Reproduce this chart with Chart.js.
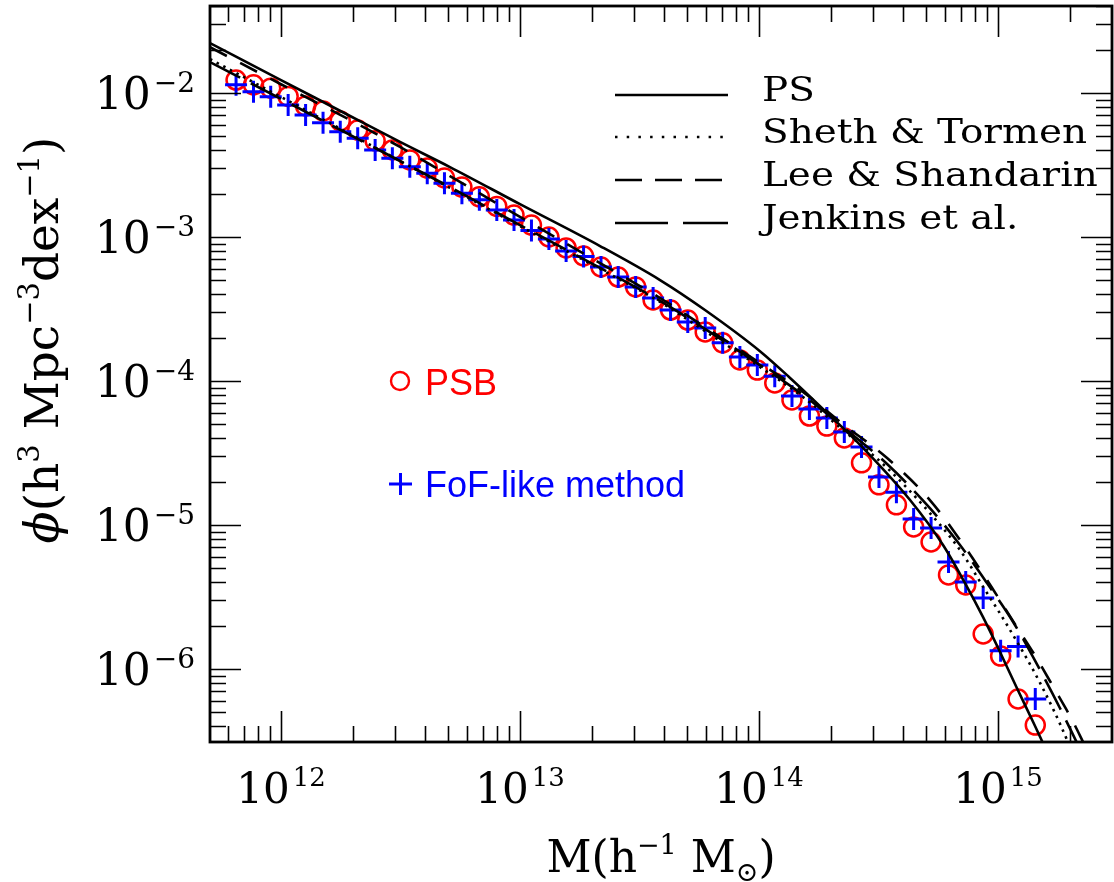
<!DOCTYPE html>
<html>
<head>
<meta charset="utf-8">
<title>Halo mass function</title>
<script src="https://cdn.jsdelivr.net/npm/chart.js@4.4.1/dist/chart.umd.min.js"></script>
<style>
  html, body { margin: 0; padding: 0; background: #fff; }
  #wrap { width: 1114px; height: 882px; }
</style>
</head>
<body>
<div id="wrap"><canvas id="mfChart" width="1114" height="882"></canvas></div>
<script>
// measured bins, log10(M / h^-1 Msun)
const binLogMass = [11.812, 11.885, 11.957, 12.030, 12.103, 12.176, 12.248, 12.321, 12.394, 12.466,
  12.539, 12.612, 12.684, 12.757, 12.830, 12.903, 12.975, 13.048, 13.121, 13.193,
  13.266, 13.339, 13.411, 13.484, 13.557, 13.630, 13.702, 13.775, 13.848, 13.920,
  13.993, 14.066, 14.138, 14.211, 14.284, 14.357, 14.429, 14.502, 14.575, 14.647,
  14.720, 14.793, 14.865, 14.938, 15.011, 15.084, 15.156];

const psbPhi = [1.23e-2, 1.14e-2, 1.08e-2, 9.46e-3, 8.13e-3, 7.50e-3, 6.40e-3, 5.53e-3, 4.65e-3, 4.02e-3,
  3.43e-3, 3.01e-3, 2.57e-3, 2.22e-3, 1.90e-3, 1.63e-3, 1.42e-3, 1.21e-3, 1.00e-3, 8.39e-4,
  7.38e-4, 6.19e-4, 5.27e-4, 4.50e-4, 3.65e-4, 3.11e-4, 2.65e-4, 2.19e-4, 1.84e-4, 1.40e-4,
  1.19e-4, 9.68e-5, 7.38e-5, 5.71e-5, 4.86e-5, 4.02e-5, 2.70e-5, 1.90e-5, 1.38e-5, 9.68e-6,
  7.62e-6, 4.50e-6, 3.83e-6, 1.75e-6, 1.23e-6, 6.19e-7, 4.08e-7];

const fofPhi = [1.14e-2, 1.02e-2, 9.42e-3, 8.26e-3, 7.03e-3, 6.22e-3, 5.38e-3, 4.84e-3, 4.02e-3, 3.52e-3,
  3.08e-3, 2.77e-3, 2.36e-3, 2.01e-3, 1.81e-3, 1.54e-3, 1.31e-3, 1.11e-3, 9.68e-4, 8.00e-4,
  7.32e-4, 6.19e-4, 5.27e-4, 4.50e-4, 3.77e-4, 3.11e-4, 2.57e-4, 2.33e-4, 1.84e-4, 1.47e-4,
  1.29e-4, 1.08e-4, 7.87e-5, 6.40e-5, 5.54e-5, 4.43e-5, 3.48e-5, 2.15e-5, 1.69e-5, 1.10e-5,
  9.53e-6, 5.53e-6, 4.02e-6, 3.11e-6, 1.34e-6, 1.43e-6, 6.19e-7];

// model curves
const psLogMass = [11.703, 12.000, 12.289, 12.498, 12.707, 13.000, 13.335, 13.586, 13.774, 14.004,
  14.130, 14.285, 14.423, 14.632, 14.770, 14.862, 14.937, 15.004, 15.079, 15.151, 15.192];
const psPhi = [2.22e-2, 1.23e-2, 6.92e-3, 4.57e-3, 3.06e-3, 1.69e-3, 8.65e-4, 5.02e-4, 3.11e-4, 1.61e-4,
  1.05e-4, 6.00e-5, 3.60e-5, 1.49e-5, 7.26e-6, 3.95e-6, 2.30e-6, 1.36e-6, 7.38e-7, 4.15e-7, 2.96e-7];

const stLogMass = [11.703, 12.000, 12.289, 12.498, 12.707, 13.000, 13.335, 13.586, 13.774, 14.004,
  14.184, 14.351, 14.536, 14.715, 14.841, 14.946, 15.038, 15.176, 15.289, 15.297];
const stPhi = [1.72e-2, 9.38e-3, 5.19e-3, 3.37e-3, 2.19e-3, 1.19e-3, 6.00e-4, 3.54e-4, 2.22e-4, 1.25e-4,
  7.74e-5, 4.57e-5, 2.49e-5, 1.21e-5, 6.70e-6, 3.54e-6, 2.02e-6, 8.00e-7, 3.21e-7, 2.96e-7];

const lsLogMass = [11.703, 12.000, 12.289, 12.498, 12.707, 13.000, 13.335, 13.586, 13.774, 14.004,
  14.184, 14.351, 14.536, 14.715, 14.841, 14.954, 15.071, 15.159, 15.234, 15.310, 15.356, 15.368];
const lsPhi = [2.08e-2, 1.15e-2, 6.49e-3, 4.22e-3, 2.65e-3, 1.38e-3, 6.59e-4, 3.77e-4, 2.37e-4, 1.33e-4,
  8.39e-5, 5.02e-5, 2.92e-5, 1.49e-5, 7.87e-6, 4.15e-6, 2.05e-6, 1.21e-6, 7.38e-7, 4.43e-7, 3.11e-7, 2.83e-7];

const jenLogMass = [11.703, 12.000, 12.289, 12.498, 12.707, 13.000, 13.335, 13.586, 13.774, 14.004,
  14.184, 14.351, 14.536, 14.715, 14.841, 14.954, 15.071, 15.176, 15.259, 15.335];
const jenPhi = [1.64e-2, 9.09e-3, 5.11e-3, 3.37e-3, 2.22e-3, 1.21e-3, 6.10e-4, 3.60e-4, 2.30e-4, 1.29e-4,
  8.00e-5, 4.80e-5, 2.65e-5, 1.31e-5, 7.26e-6, 3.95e-6, 2.02e-6, 9.84e-7, 5.36e-7, 2.96e-7];

const xTickExp = [12, 13, 14, 15];
const yTickExp = [-2, -3, -4, -5, -6];
const legendNames = ["PS", "Sheth & Tormen", "Lee & Shandarin", "Jenkins et al."];

const serif = '"DejaVu Serif", serif';
const sans = '"Liberation Sans", Arial, sans-serif';

function toPoints(logM, phi) {
  return logM.map((m, i) => ({ x: Math.pow(10, m), y: phi[i] }));
}

function curve(label, logM, phi, dash) {
  return {
    label: label,
    data: toPoints(logM, phi),
    showLine: true,
    pointRadius: 0,
    borderColor: "#000",
    borderWidth: 2.6,
    borderDash: dash,
    cubicInterpolationMode: "monotone",
    fill: false
  };
}

// draws "10" with a raised exponent
function drawPower(ctx, base, exp, x, y, align, bigPx, smallPx) {
  ctx.font = bigPx + "px " + serif;
  const wb = ctx.measureText(base).width;
  ctx.font = smallPx + "px " + serif;
  const we = ctx.measureText(exp).width;
  let x0 = x;
  if (align === "center") x0 = x - (wb + we + 3) / 2;
  if (align === "right") x0 = x - wb - we - 3;
  ctx.textAlign = "left";
  ctx.textBaseline = "alphabetic";
  ctx.font = bigPx + "px " + serif;
  ctx.fillText(base, x0, y);
  ctx.font = smallPx + "px " + serif;
  ctx.fillText(exp, x0 + wb + 3, y - 17);
}

// text made of pieces (superscripts / subscripts)
function drawPieces(ctx, pieces, x, y) {
  let total = 0;
  pieces.forEach(p => {
    ctx.font = p.font;
    p.w = ctx.measureText(p.t).width;
    total += p.w;
  });
  let cx = x - total / 2;
  ctx.textAlign = "left";
  ctx.textBaseline = "alphabetic";
  pieces.forEach(p => {
    ctx.font = p.font;
    ctx.fillText(p.t, cx, y + (p.dy || 0));
    cx += p.w;
  });
}

const framePlugin = {
  id: "framePlugin",
  afterDraw(chart) {
    const ctx = chart.ctx;
    const a = chart.chartArea;
    const xs = chart.scales.x;
    const ys = chart.scales.y;
    ctx.save();
    ctx.strokeStyle = "#000";
    ctx.fillStyle = "#000";

    // inward ticks on all four sides
    ctx.lineWidth = 1.6;
    ctx.beginPath();
    for (let n = 11; n <= 15; n++) {
      for (let k = 1; k <= 9; k++) {
        const v = k * Math.pow(10, n);
        if (v < xs.min || v > xs.max) continue;
        const px = Math.round(xs.getPixelForValue(v)) + 0.5;
        const len = k === 1 ? 31 : 16;
        ctx.moveTo(px, a.bottom); ctx.lineTo(px, a.bottom - len);
        ctx.moveTo(px, a.top); ctx.lineTo(px, a.top + len);
      }
    }
    for (let n = -7; n <= -1; n++) {
      for (let k = 1; k <= 9; k++) {
        const v = k * Math.pow(10, n);
        if (v < ys.min || v > ys.max) continue;
        const py = Math.round(ys.getPixelForValue(v)) + 0.5;
        const len = k === 1 ? 31 : 16;
        ctx.moveTo(a.left, py); ctx.lineTo(a.left + len, py);
        ctx.moveTo(a.right, py); ctx.lineTo(a.right - len, py);
      }
    }
    ctx.stroke();

    ctx.lineWidth = 2.8;
    ctx.strokeRect(a.left, a.top, a.right - a.left, a.bottom - a.top);

    // tick labels
    xTickExp.forEach(e => {
      drawPower(ctx, "10", String(e), xs.getPixelForValue(Math.pow(10, e)), 803, "center", 42, 26);
    });
    yTickExp.forEach(e => {
      const py = ys.getPixelForValue(Math.pow(10, e));
      drawPower(ctx, "10", "\u2212" + Math.abs(e), 195, py + 16, "right", 44, 28);
    });

    // axis titles
    const big = "44px " + serif;
    const small = "27px " + serif;
    drawPieces(ctx, [
      { t: "M(h", font: big },
      { t: "\u22121", font: small, dy: -18 },
      { t: " M", font: big },
      { t: "\u2299", font: small, dy: 9 },
      { t: ")", font: big }
    ], (a.left + a.right) / 2, 872);

    const bigY = "47px " + serif;
    const smallY = "29px " + serif;
    ctx.save();
    ctx.translate(58, 340);
    ctx.rotate(-Math.PI / 2);
    drawPieces(ctx, [
      { t: "\u03d5", font: "italic " + bigY },
      { t: "(h", font: bigY },
      { t: "3", font: smallY, dy: -19 },
      { t: " Mpc", font: bigY },
      { t: "\u22123", font: smallY, dy: -19 },
      { t: "dex", font: bigY },
      { t: "\u22121", font: smallY, dy: -19 },
      { t: ")", font: bigY }
    ], 0, 0);
    ctx.restore();

    // legend for the model curves
    const dashes = [[], [2.5, 9.2], [27, 13], [53, 15]];
    const rows = [95, 137, 180, 223];
    ctx.font = "33px " + serif;
    const stretch = 325 / ctx.measureText(legendNames[1]).width;
    legendNames.forEach((name, i) => {
      ctx.lineWidth = 2.4;
      ctx.setLineDash(dashes[i]);
      ctx.beginPath();
      ctx.moveTo(615, rows[i]);
      ctx.lineTo(728, rows[i]);
      ctx.stroke();
      ctx.setLineDash([]);
      ctx.save();
      ctx.translate(762, rows[i] + 6);
      ctx.scale(stretch, 1);
      ctx.font = "33px " + serif;
      ctx.textAlign = "left";
      ctx.fillText(name, 0, 0);
      ctx.restore();
    });

    // labels for the measured points
    ctx.lineWidth = 2.4;
    ctx.strokeStyle = "#ff0000";
    ctx.beginPath();
    ctx.arc(400, 381, 9, 0, Math.PI * 2);
    ctx.stroke();
    ctx.fillStyle = "#ff0000";
    ctx.font = "36px " + sans;
    ctx.textAlign = "left";
    ctx.fillText("PSB", 425, 395);

    ctx.lineWidth = 3;
    ctx.strokeStyle = "#0000ff";
    ctx.beginPath();
    ctx.moveTo(389, 484); ctx.lineTo(412, 484);
    ctx.moveTo(400.5, 473); ctx.lineTo(400.5, 495);
    ctx.stroke();
    ctx.fillStyle = "#0000ff";
    ctx.fillText("FoF-like method", 425, 497);

    ctx.restore();
  }
};

const chart = new Chart(document.getElementById("mfChart"), {
  type: "scatter",
  data: {
    datasets: [
      curve("PS", psLogMass, psPhi, []),
      curve("Sheth & Tormen", stLogMass, stPhi, [2.5, 5]),
      curve("Lee & Shandarin", lsLogMass, lsPhi, [19, 15]),
      curve("Jenkins et al.", jenLogMass, jenPhi, [34, 12]),
      {
        label: "FoF-like method",
        data: toPoints(binLogMass, fofPhi),
        pointStyle: "cross",
        pointRadius: 11,
        borderWidth: 3,
        borderColor: "#0000ff",
        backgroundColor: "#0000ff"
      },
      {
        label: "PSB",
        data: toPoints(binLogMass, psbPhi),
        pointStyle: "circle",
        pointRadius: 9.5,
        borderWidth: 2.5,
        borderColor: "#ff0000",
        backgroundColor: "rgba(0,0,0,0)"
      }
    ]
  },
  options: {
    responsive: false,
    animation: false,
    devicePixelRatio: 1,
    layout: { autoPadding: false, padding: { top: 6, right: 2, left: 0, bottom: 0 } },
    plugins: { legend: { display: false }, tooltip: { enabled: false } },
    scales: {
      x: {
        type: "logarithmic",
        min: Math.pow(10, 11.703),
        max: Math.pow(10, 15.477),
        ticks: { display: false },
        grid: { display: false },
        border: { display: false },
        afterFit(s) { s.height = 140; }
      },
      y: {
        type: "logarithmic",
        min: Math.pow(10, -6.507),
        max: Math.pow(10, -1.396),
        ticks: { display: false },
        grid: { display: false },
        border: { display: false },
        afterFit(s) { s.width = 210; }
      }
    }
  },
  plugins: [framePlugin]
});
</script>
</body>
</html>
